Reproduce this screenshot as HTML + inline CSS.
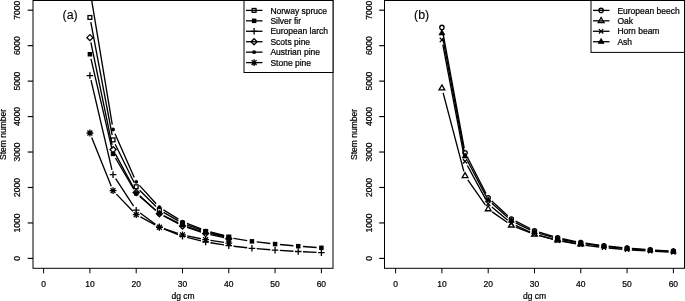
<!DOCTYPE html>
<html><head><meta charset="utf-8"><style>
html,body{margin:0;padding:0;background:#fff;width:685px;height:301px;overflow:hidden;}
svg{display:block;will-change:transform;}
text{font-family:"Liberation Sans", sans-serif;stroke:#000;stroke-width:0.22px;}
text.big{stroke-width:0.12px;}
</style></head><body>
<svg width="685" height="301" viewBox="0 0 685 301" font-family='"Liberation Sans", sans-serif' font-size="8.5" fill="#000"><rect x="33.00" y="0.50" width="300.00" height="267.80" fill="none" stroke="#000" stroke-width="1"/>
<path d="M27.70,258.40H33.00" stroke="#000" stroke-width="1.15"/>
<text transform="translate(20.30,258.40) rotate(-90)" text-anchor="middle">0</text>
<path d="M27.70,222.94H33.00" stroke="#000" stroke-width="1.15"/>
<text transform="translate(20.30,222.94) rotate(-90)" text-anchor="middle">1000</text>
<path d="M27.70,187.49H33.00" stroke="#000" stroke-width="1.15"/>
<text transform="translate(20.30,187.49) rotate(-90)" text-anchor="middle">2000</text>
<path d="M27.70,152.03H33.00" stroke="#000" stroke-width="1.15"/>
<text transform="translate(20.30,152.03) rotate(-90)" text-anchor="middle">3000</text>
<path d="M27.70,116.57H33.00" stroke="#000" stroke-width="1.15"/>
<text transform="translate(20.30,116.57) rotate(-90)" text-anchor="middle">4000</text>
<path d="M27.70,81.11H33.00" stroke="#000" stroke-width="1.15"/>
<text transform="translate(20.30,81.11) rotate(-90)" text-anchor="middle">5000</text>
<path d="M27.70,45.66H33.00" stroke="#000" stroke-width="1.15"/>
<text transform="translate(20.30,45.66) rotate(-90)" text-anchor="middle">6000</text>
<path d="M27.70,10.20H33.00" stroke="#000" stroke-width="1.15"/>
<text transform="translate(20.30,10.20) rotate(-90)" text-anchor="middle">7000</text>
<path d="M43.61,268.30V273.30" stroke="#000" stroke-width="1"/>
<text x="43.61" y="287.1" text-anchor="middle">0</text>
<path d="M89.91,268.30V273.30" stroke="#000" stroke-width="1"/>
<text x="89.91" y="287.1" text-anchor="middle">10</text>
<path d="M136.20,268.30V273.30" stroke="#000" stroke-width="1"/>
<text x="136.20" y="287.1" text-anchor="middle">20</text>
<path d="M182.50,268.30V273.30" stroke="#000" stroke-width="1"/>
<text x="182.50" y="287.1" text-anchor="middle">30</text>
<path d="M228.79,268.30V273.30" stroke="#000" stroke-width="1"/>
<text x="228.79" y="287.1" text-anchor="middle">40</text>
<path d="M275.09,268.30V273.30" stroke="#000" stroke-width="1"/>
<text x="275.09" y="287.1" text-anchor="middle">50</text>
<path d="M321.39,268.30V273.30" stroke="#000" stroke-width="1"/>
<text x="321.39" y="287.1" text-anchor="middle">60</text>
<text x="183.00" y="298.6" text-anchor="middle">dg cm</text>
<text transform="translate(5.60,134.40) rotate(-90)" text-anchor="middle">Stem number</text>
<text x="62.60" y="19.35" font-size="12.4" class="big">(a)</text>
<path d="M90.80,22.19L112.16,135.18M115.18,144.20L134.08,182.47M139.60,190.17L155.96,206.53M163.52,212.31L178.33,220.79M187.01,224.79L201.13,229.87M210.31,232.63L224.13,235.97" stroke="#000" stroke-width="1.35" fill="none"/>
<rect x="88.00" y="15.56" width="3.81" height="3.81" fill="none" stroke="#000" stroke-width="1.3"/>
<rect x="111.15" y="137.99" width="3.81" height="3.81" fill="none" stroke="#000" stroke-width="1.3"/>
<rect x="134.30" y="184.87" width="3.81" height="3.81" fill="none" stroke="#000" stroke-width="1.3"/>
<rect x="157.45" y="208.02" width="3.81" height="3.81" fill="none" stroke="#000" stroke-width="1.3"/>
<rect x="180.59" y="221.26" width="3.81" height="3.81" fill="none" stroke="#000" stroke-width="1.3"/>
<rect x="203.74" y="229.59" width="3.81" height="3.81" fill="none" stroke="#000" stroke-width="1.3"/>
<rect x="226.89" y="235.20" width="3.81" height="3.81" fill="none" stroke="#000" stroke-width="1.3"/>
<path d="M90.99,58.91L111.97,149.19M115.48,158.01L133.78,189.25M139.83,196.53L155.72,210.28M163.63,215.59L178.21,222.95M187.07,226.59L201.08,231.12M210.33,233.63L224.11,236.67M233.54,238.45L247.20,240.61M256.71,241.92L270.32,243.52M279.87,244.51L293.46,245.73M303.03,246.50L316.60,247.46" stroke="#000" stroke-width="1.35" fill="none"/>
<rect x="87.66" y="51.99" width="4.50" height="4.50" fill="#000"/>
<rect x="110.80" y="151.62" width="4.50" height="4.50" fill="#000"/>
<rect x="133.95" y="191.14" width="4.50" height="4.50" fill="#000"/>
<rect x="157.10" y="211.17" width="4.50" height="4.50" fill="#000"/>
<rect x="180.25" y="222.87" width="4.50" height="4.50" fill="#000"/>
<rect x="203.40" y="230.34" width="4.50" height="4.50" fill="#000"/>
<rect x="226.54" y="235.45" width="4.50" height="4.50" fill="#000"/>
<rect x="249.69" y="239.11" width="4.50" height="4.50" fill="#000"/>
<rect x="272.84" y="241.83" width="4.50" height="4.50" fill="#000"/>
<rect x="295.99" y="243.91" width="4.50" height="4.50" fill="#000"/>
<rect x="319.14" y="245.55" width="4.50" height="4.50" fill="#000"/>
<path d="M91.00,80.22L111.96,169.92M115.67,178.61L133.59,206.19M140.09,213.04L155.47,224.21M163.81,228.82L178.04,234.53M187.16,237.46L200.98,240.84M210.39,242.74L224.05,244.94M233.56,246.23L247.17,247.75M256.73,248.66L270.31,249.75M279.88,250.42L293.45,251.23M303.03,251.74L316.59,252.36" stroke="#000" stroke-width="1.35" fill="none"/>
<path d="M86.61,75.55H93.21M89.91,72.25V78.85" stroke="#000" stroke-width="1.3" fill="none"/>
<path d="M109.75,174.59H116.35M113.05,171.29V177.89" stroke="#000" stroke-width="1.3" fill="none"/>
<path d="M132.90,210.21H139.50M136.20,206.91V213.51" stroke="#000" stroke-width="1.3" fill="none"/>
<path d="M156.05,227.03H162.65M159.35,223.73V230.33" stroke="#000" stroke-width="1.3" fill="none"/>
<path d="M179.20,236.31H185.80M182.50,233.01V239.61" stroke="#000" stroke-width="1.3" fill="none"/>
<path d="M202.35,241.98H208.95M205.65,238.68V245.28" stroke="#000" stroke-width="1.3" fill="none"/>
<path d="M225.49,245.70H232.09M228.79,242.40V249.00" stroke="#000" stroke-width="1.3" fill="none"/>
<path d="M248.64,248.28H255.24M251.94,244.98V251.58" stroke="#000" stroke-width="1.3" fill="none"/>
<path d="M271.79,250.13H278.39M275.09,246.83V253.43" stroke="#000" stroke-width="1.3" fill="none"/>
<path d="M294.94,251.52H301.54M298.24,248.22V254.82" stroke="#000" stroke-width="1.3" fill="none"/>
<path d="M318.09,252.58H324.69M321.39,249.28V255.88" stroke="#000" stroke-width="1.3" fill="none"/>
<path d="M90.88,42.35L112.08,144.90M115.33,153.82L133.92,188.32M139.74,195.79L155.81,210.54M163.60,216.01L178.25,223.71M187.06,227.45L201.09,232.09M210.33,234.64L224.11,237.71" stroke="#000" stroke-width="1.35" fill="none"/>
<path d="M89.91,34.60L92.95,37.64L89.91,40.68L86.87,37.64Z" stroke="#000" stroke-width="1.3" fill="none"/>
<path d="M113.05,146.56L116.09,149.60L113.05,152.64L110.01,149.60Z" stroke="#000" stroke-width="1.3" fill="none"/>
<path d="M136.20,189.50L139.24,192.54L136.20,195.58L133.16,192.54Z" stroke="#000" stroke-width="1.3" fill="none"/>
<path d="M159.35,210.74L162.39,213.78L159.35,216.82L156.31,213.78Z" stroke="#000" stroke-width="1.3" fill="none"/>
<path d="M182.50,222.90L185.54,225.94L182.50,228.98L179.46,225.94Z" stroke="#000" stroke-width="1.3" fill="none"/>
<path d="M205.65,230.56L208.69,233.60L205.65,236.64L202.61,233.60Z" stroke="#000" stroke-width="1.3" fill="none"/>
<path d="M228.79,235.71L231.83,238.75L228.79,241.79L225.75,238.75Z" stroke="#000" stroke-width="1.3" fill="none"/>
<path d="M90.69,-5.59L112.27,124.72M114.99,133.84L134.26,177.42M139.43,185.37L156.12,203.72M163.43,209.81L178.42,219.12M186.97,223.38L201.17,228.87M210.29,231.80L224.15,235.37" stroke="#000" stroke-width="1.35" fill="none"/>
<circle cx="113.05" cy="129.45" r="1.93" fill="#000"/>
<circle cx="136.20" cy="181.81" r="1.93" fill="#000"/>
<circle cx="159.35" cy="207.27" r="1.93" fill="#000"/>
<circle cx="182.50" cy="221.65" r="1.93" fill="#000"/>
<circle cx="205.65" cy="230.60" r="1.93" fill="#000"/>
<circle cx="228.79" cy="236.57" r="1.93" fill="#000"/>
<path d="M91.69,137.44L111.27,186.23M116.39,194.14L132.87,211.22M140.42,216.96L155.13,224.96M163.91,228.74L177.93,233.30M187.19,235.79L200.95,238.72M210.39,240.42L224.05,242.45" stroke="#000" stroke-width="1.35" fill="none"/>
<path d="M86.51,132.99H93.31M89.91,129.59V136.39M87.46,130.54L92.36,135.44M87.46,135.44L92.36,130.54" stroke="#000" stroke-width="1.3" fill="none"/>
<path d="M109.65,190.69H116.45M113.05,187.29V194.09M110.60,188.24L115.50,193.14M110.60,193.14L115.50,188.24" stroke="#000" stroke-width="1.3" fill="none"/>
<path d="M132.80,214.67H139.60M136.20,211.27V218.07M133.75,212.22L138.65,217.12M133.75,217.12L138.65,212.22" stroke="#000" stroke-width="1.3" fill="none"/>
<path d="M155.95,227.25H162.75M159.35,223.85V230.65M156.90,224.80L161.80,229.70M156.90,229.70L161.80,224.80" stroke="#000" stroke-width="1.3" fill="none"/>
<path d="M179.10,234.79H185.90M182.50,231.39V238.19M180.05,232.34L184.95,237.24M180.05,237.24L184.95,232.34" stroke="#000" stroke-width="1.3" fill="none"/>
<path d="M202.25,239.72H209.05M205.65,236.32V243.12M203.20,237.27L208.10,242.17M203.20,242.17L208.10,237.27" stroke="#000" stroke-width="1.3" fill="none"/>
<path d="M225.39,243.15H232.19M228.79,239.75V246.55M226.34,240.70L231.24,245.60M226.34,245.60L231.24,240.70" stroke="#000" stroke-width="1.3" fill="none"/>
<rect x="244.00" y="0.5" width="89.00" height="72.00" fill="#fff" stroke="#000" stroke-width="1"/>
<path d="M246.00,10.40H262.50" stroke="#000" stroke-width="1.3"/>
<rect x="252.20" y="8.50" width="3.81" height="3.81" fill="none" stroke="#000" stroke-width="1.3"/>
<text x="270.40" y="13.60">Norway spruce</text>
<path d="M246.00,20.84H262.50" stroke="#000" stroke-width="1.3"/>
<rect x="251.85" y="18.59" width="4.50" height="4.50" fill="#000"/>
<text x="270.40" y="24.04">Silver fir</text>
<path d="M246.00,31.28H262.50" stroke="#000" stroke-width="1.3"/>
<path d="M250.80,31.28H257.40M254.10,27.98V34.58" stroke="#000" stroke-width="1.3" fill="none"/>
<text x="270.40" y="34.48">European larch</text>
<path d="M246.00,41.72H262.50" stroke="#000" stroke-width="1.3"/>
<path d="M254.10,38.68L257.14,41.72L254.10,44.76L251.06,41.72Z" stroke="#000" stroke-width="1.3" fill="none"/>
<text x="270.40" y="44.92">Scots pine</text>
<path d="M246.00,52.16H262.50" stroke="#000" stroke-width="1.3"/>
<circle cx="254.10" cy="52.16" r="1.93" fill="#000"/>
<text x="270.40" y="55.36">Austrian pine</text>
<path d="M246.00,62.60H262.50" stroke="#000" stroke-width="1.3"/>
<path d="M250.70,62.60H257.50M254.10,59.20V66.00M251.65,60.15L256.55,65.05M251.65,65.05L256.55,60.15" stroke="#000" stroke-width="1.3" fill="none"/>
<text x="270.40" y="65.80">Stone pine</text>
<rect x="384.50" y="0.50" width="300.00" height="267.80" fill="none" stroke="#000" stroke-width="1"/>
<path d="M379.20,258.40H384.50" stroke="#000" stroke-width="1.15"/>
<text transform="translate(372.30,258.40) rotate(-90)" text-anchor="middle">0</text>
<path d="M379.20,222.94H384.50" stroke="#000" stroke-width="1.15"/>
<text transform="translate(372.30,222.94) rotate(-90)" text-anchor="middle">1000</text>
<path d="M379.20,187.49H384.50" stroke="#000" stroke-width="1.15"/>
<text transform="translate(372.30,187.49) rotate(-90)" text-anchor="middle">2000</text>
<path d="M379.20,152.03H384.50" stroke="#000" stroke-width="1.15"/>
<text transform="translate(372.30,152.03) rotate(-90)" text-anchor="middle">3000</text>
<path d="M379.20,116.57H384.50" stroke="#000" stroke-width="1.15"/>
<text transform="translate(372.30,116.57) rotate(-90)" text-anchor="middle">4000</text>
<path d="M379.20,81.11H384.50" stroke="#000" stroke-width="1.15"/>
<text transform="translate(372.30,81.11) rotate(-90)" text-anchor="middle">5000</text>
<path d="M379.20,45.66H384.50" stroke="#000" stroke-width="1.15"/>
<text transform="translate(372.30,45.66) rotate(-90)" text-anchor="middle">6000</text>
<path d="M379.20,10.20H384.50" stroke="#000" stroke-width="1.15"/>
<text transform="translate(372.30,10.20) rotate(-90)" text-anchor="middle">7000</text>
<path d="M395.61,268.30V273.30" stroke="#000" stroke-width="1"/>
<text x="395.61" y="287.1" text-anchor="middle">0</text>
<path d="M441.91,268.30V273.30" stroke="#000" stroke-width="1"/>
<text x="441.91" y="287.1" text-anchor="middle">10</text>
<path d="M488.20,268.30V273.30" stroke="#000" stroke-width="1"/>
<text x="488.20" y="287.1" text-anchor="middle">20</text>
<path d="M534.50,268.30V273.30" stroke="#000" stroke-width="1"/>
<text x="534.50" y="287.1" text-anchor="middle">30</text>
<path d="M580.79,268.30V273.30" stroke="#000" stroke-width="1"/>
<text x="580.79" y="287.1" text-anchor="middle">40</text>
<path d="M627.09,268.30V273.30" stroke="#000" stroke-width="1"/>
<text x="627.09" y="287.1" text-anchor="middle">50</text>
<path d="M673.39,268.30V273.30" stroke="#000" stroke-width="1"/>
<text x="673.39" y="287.1" text-anchor="middle">60</text>
<text x="534.50" y="298.6" text-anchor="middle">dg cm</text>
<text transform="translate(357.40,134.40) rotate(-90)" text-anchor="middle">Stem number</text>
<text x="414.10" y="19.35" font-size="12.4" class="big">(b)</text>
<path d="M442.78,32.12L464.18,148.06M467.25,157.04L486.01,193.51M491.74,201.02L507.81,215.75M515.63,221.16L530.21,228.52M539.09,232.09L553.06,236.40M562.35,238.76L576.09,241.54M585.55,243.16L599.19,245.06M608.72,246.21L622.31,247.58M631.88,248.42L645.45,249.44M655.03,250.07L668.59,250.85" stroke="#000" stroke-width="1.35" fill="none"/>
<circle cx="441.91" cy="27.40" r="2.15" fill="none" stroke="#000" stroke-width="1.3"/>
<circle cx="465.05" cy="152.78" r="2.15" fill="none" stroke="#000" stroke-width="1.3"/>
<circle cx="488.20" cy="197.78" r="2.15" fill="none" stroke="#000" stroke-width="1.3"/>
<circle cx="511.35" cy="218.99" r="2.15" fill="none" stroke="#000" stroke-width="1.3"/>
<circle cx="534.50" cy="230.68" r="2.15" fill="none" stroke="#000" stroke-width="1.3"/>
<circle cx="557.65" cy="237.81" r="2.15" fill="none" stroke="#000" stroke-width="1.3"/>
<circle cx="580.79" cy="242.49" r="2.15" fill="none" stroke="#000" stroke-width="1.3"/>
<circle cx="603.94" cy="245.73" r="2.15" fill="none" stroke="#000" stroke-width="1.3"/>
<circle cx="627.09" cy="248.06" r="2.15" fill="none" stroke="#000" stroke-width="1.3"/>
<circle cx="650.24" cy="249.80" r="2.15" fill="none" stroke="#000" stroke-width="1.3"/>
<circle cx="673.39" cy="251.13" r="2.15" fill="none" stroke="#000" stroke-width="1.3"/>
<path d="M443.13,92.92L463.83,171.33M467.80,179.90L485.45,205.17M492.13,211.86L507.42,222.56M515.81,227.09L530.04,232.74M539.16,235.67L552.99,239.11M562.38,241.05L576.06,243.33" stroke="#000" stroke-width="1.35" fill="none"/>
<path d="M441.91,84.93L444.80,89.95L439.01,89.95Z" fill="none" stroke="#000" stroke-width="1.3"/>
<path d="M465.05,172.63L467.95,177.64L462.16,177.64Z" fill="none" stroke="#000" stroke-width="1.3"/>
<path d="M488.20,205.76L491.10,210.77L485.31,210.77Z" fill="none" stroke="#000" stroke-width="1.3"/>
<path d="M511.35,221.97L514.25,226.99L508.45,226.99Z" fill="none" stroke="#000" stroke-width="1.3"/>
<path d="M534.50,231.17L537.39,236.19L531.60,236.19Z" fill="none" stroke="#000" stroke-width="1.3"/>
<path d="M557.65,236.92L560.54,241.94L554.75,241.94Z" fill="none" stroke="#000" stroke-width="1.3"/>
<path d="M580.79,240.77L583.69,245.79L577.90,245.79Z" fill="none" stroke="#000" stroke-width="1.3"/>
<path d="M442.81,44.70L464.15,156.61M467.35,165.54L485.90,199.58M491.86,206.90L507.69,220.35M515.71,225.46L530.14,232.12M539.12,235.42L553.02,239.28M562.37,241.42L576.07,243.90M585.56,245.34L599.18,247.02M608.72,248.04L622.31,249.24M631.88,249.98L645.45,250.87M655.03,251.42L668.59,252.09" stroke="#000" stroke-width="1.35" fill="none"/>
<path d="M439.76,37.83L444.06,42.13M439.76,42.13L444.06,37.83" stroke="#000" stroke-width="1.3" fill="none"/>
<path d="M462.90,159.18L467.20,163.48M462.90,163.48L467.20,159.18" stroke="#000" stroke-width="1.3" fill="none"/>
<path d="M486.05,201.65L490.35,205.95M486.05,205.95L490.35,201.65" stroke="#000" stroke-width="1.3" fill="none"/>
<path d="M509.20,221.30L513.50,225.60M509.20,225.60L513.50,221.30" stroke="#000" stroke-width="1.3" fill="none"/>
<path d="M532.35,231.98L536.65,236.28M532.35,236.28L536.65,231.98" stroke="#000" stroke-width="1.3" fill="none"/>
<path d="M555.50,238.42L559.80,242.72M555.50,242.72L559.80,238.42" stroke="#000" stroke-width="1.3" fill="none"/>
<path d="M578.64,242.60L582.94,246.90M578.64,246.90L582.94,242.60" stroke="#000" stroke-width="1.3" fill="none"/>
<path d="M601.79,245.46L606.09,249.76M601.79,249.76L606.09,245.46" stroke="#000" stroke-width="1.3" fill="none"/>
<path d="M624.94,247.51L629.24,251.81M624.94,251.81L629.24,247.51" stroke="#000" stroke-width="1.3" fill="none"/>
<path d="M648.09,249.03L652.39,253.33M648.09,253.33L652.39,249.03" stroke="#000" stroke-width="1.3" fill="none"/>
<path d="M671.24,250.18L675.54,254.48M671.24,254.48L675.54,250.18" stroke="#000" stroke-width="1.3" fill="none"/>
<path d="M442.79,37.93L464.17,151.55M467.29,160.51L485.96,195.87M491.79,203.31L507.76,217.49M515.66,222.78L530.18,229.86M539.10,233.33L553.04,237.46M562.36,239.74L576.08,242.40M585.55,243.95L599.18,245.77M608.72,246.87L622.31,248.18M631.88,248.98L645.45,249.95M655.03,250.56L668.59,251.30" stroke="#000" stroke-width="1.35" fill="none"/>
<path d="M441.91,29.87L444.80,34.88L439.01,34.88Z" fill="#000" stroke="#000" stroke-width="0.8"/>
<path d="M465.05,152.92L467.95,157.94L462.16,157.94Z" fill="#000" stroke="#000" stroke-width="0.8"/>
<path d="M488.20,196.77L491.10,201.79L485.31,201.79Z" fill="#000" stroke="#000" stroke-width="0.8"/>
<path d="M511.35,217.34L514.25,222.35L508.45,222.35Z" fill="#000" stroke="#000" stroke-width="0.8"/>
<path d="M534.50,228.62L537.39,233.64L531.60,233.64Z" fill="#000" stroke="#000" stroke-width="0.8"/>
<path d="M557.65,235.49L560.54,240.50L554.75,240.50Z" fill="#000" stroke="#000" stroke-width="0.8"/>
<path d="M580.79,239.97L583.69,244.99L577.90,244.99Z" fill="#000" stroke="#000" stroke-width="0.8"/>
<path d="M603.94,243.07L606.84,248.08L601.05,248.08Z" fill="#000" stroke="#000" stroke-width="0.8"/>
<path d="M627.09,245.29L629.99,250.31L624.19,250.31Z" fill="#000" stroke="#000" stroke-width="0.8"/>
<path d="M650.24,246.95L653.13,251.97L647.34,251.97Z" fill="#000" stroke="#000" stroke-width="0.8"/>
<path d="M673.39,248.22L676.28,253.23L670.49,253.23Z" fill="#000" stroke="#000" stroke-width="0.8"/>
<rect x="591.00" y="0.5" width="93.50" height="51.90" fill="#fff" stroke="#000" stroke-width="1"/>
<path d="M593.00,10.40H609.50" stroke="#000" stroke-width="1.3"/>
<circle cx="601.10" cy="10.40" r="2.15" fill="none" stroke="#000" stroke-width="1.3"/>
<text x="617.40" y="13.60">European beech</text>
<path d="M593.00,20.84H609.50" stroke="#000" stroke-width="1.3"/>
<path d="M601.10,17.50L604.00,22.51L598.20,22.51Z" fill="none" stroke="#000" stroke-width="1.3"/>
<text x="617.40" y="24.04">Oak</text>
<path d="M593.00,31.28H609.50" stroke="#000" stroke-width="1.3"/>
<path d="M598.95,29.13L603.25,33.43M598.95,33.43L603.25,29.13" stroke="#000" stroke-width="1.3" fill="none"/>
<text x="617.40" y="34.48">Horn beam</text>
<path d="M593.00,41.72H609.50" stroke="#000" stroke-width="1.3"/>
<path d="M601.10,38.38L604.00,43.39L598.20,43.39Z" fill="#000" stroke="#000" stroke-width="0.8"/>
<text x="617.40" y="44.92">Ash</text></svg>
</body></html>
